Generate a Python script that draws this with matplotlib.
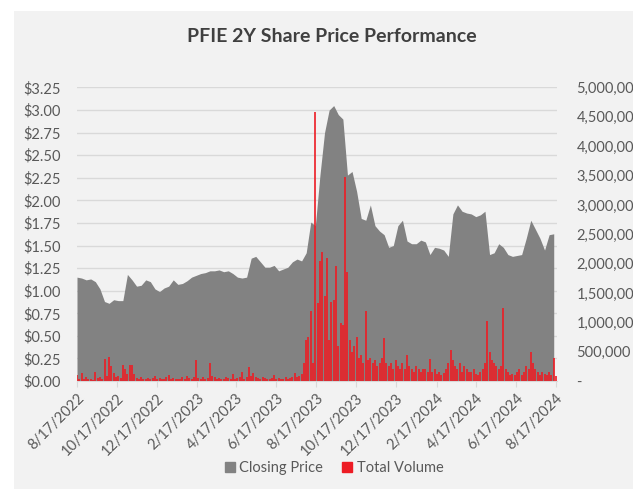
import numpy as np
import pandas as pd
import matplotlib
matplotlib.use("Agg")
import matplotlib.pyplot as plt
import matplotlib.ticker as mticker
from matplotlib.patches import Rectangle, Patch

plt.rcParams['font.family'] = ['Lato', 'DejaVu Sans']

# weekly closing price ($), first week starting 8/17/2022
price = [
    1.15, 1.14, 1.12, 1.13, 1.10, 1.02, 0.88, 0.86, 0.90, 0.89,
    0.89, 1.18, 1.12, 1.05, 1.06, 1.12, 1.10, 1.02, 0.99, 1.03,
    1.05, 1.12, 1.07, 1.08, 1.11, 1.15, 1.17, 1.19, 1.20, 1.22,
    1.22, 1.23, 1.21, 1.22, 1.19, 1.15, 1.14, 1.15, 1.36, 1.38,
    1.32, 1.26, 1.26, 1.28, 1.22, 1.24, 1.26, 1.32, 1.35, 1.33,
    1.42, 1.76, 1.72, 2.28, 2.75, 3.00, 3.05, 2.95, 2.90, 2.28,
    2.32, 2.10, 1.80, 1.78, 1.95, 1.72, 1.66, 1.62, 1.48, 1.50,
    1.72, 1.78, 1.55, 1.52, 1.52, 1.56, 1.54, 1.40, 1.48, 1.47,
    1.45, 1.38, 1.85, 1.95, 1.88, 1.86, 1.85, 1.82, 1.84, 1.88,
    1.40, 1.42, 1.52, 1.48, 1.40, 1.38, 1.39, 1.40, 1.58, 1.78,
    1.68, 1.58, 1.45, 1.62, 1.63,
]

# total volume (thousands of shares), two readings per week
volume_k = [
    100, 40, 140, 30, 70, 30, 40, 25, 160, 50,
    60, 40, 370, 80, 410, 250, 130, 60, 90, 50,
    270, 200, 120, 270, 270, 120, 50, 40, 60, 35,
    40, 50, 30, 45, 90, 40, 50, 30, 40, 60,
    100, 40, 50, 30, 40, 35, 60, 40, 90, 50,
    40, 60, 360, 50, 40, 60, 30, 50, 300, 80,
    60, 40, 50, 30, 40, 60, 50, 40, 120, 40,
    50, 60, 150, 40, 60, 240, 90, 130, 60, 50,
    40, 60, 50, 40, 30, 50, 100, 40, 50, 30,
    40, 60, 30, 50, 70, 130, 60, 80, 120, 300,
    700, 750, 1200, 300, 4580, 1330, 2040, 2200, 1450, 2100,
    700, 1350, 1380, 1960, 600, 980, 950, 3470, 1860, 700,
    500, 600, 750, 400, 450, 300, 1190, 350, 400, 300,
    350, 250, 300, 400, 740, 300, 250, 300, 200, 350,
    250, 200, 300, 200, 450, 250, 200, 150, 250, 200,
    150, 200, 200, 150, 370, 150, 200, 120, 150, 100,
    130, 200, 300, 530, 350, 250, 200, 300, 150, 250,
    200, 150, 150, 200, 120, 100, 150, 200, 300, 1020,
    500, 350, 300, 250, 200, 250, 1240, 200, 150, 100,
    120, 100, 150, 200, 100, 150, 250, 200, 500, 300,
    200, 150, 100, 150, 120, 100, 150, 100, 400, 80,
]

start = pd.Timestamp("2022-08-17")
price_dates = pd.date_range(start, periods=len(price), freq="7D")
vol_dates = start + pd.to_timedelta(np.arange(len(volume_k)) * 3.5, unit="D")
volume = np.array(volume_k) * 1000
tick_dates = [start + pd.DateOffset(months=2 * i) for i in range(13)]

grey = '#828282'
red = '#ED1C24'
txt = '#595959'

fig = plt.figure(figsize=(6.33, 4.90), dpi=100, facecolor='white')
fig.patches.append(Rectangle((14 / 633, 1 / 490), 619 / 633, 478 / 490,
                             transform=fig.transFigure, facecolor='#f2f2f2',
                             edgecolor='none', zorder=-10))

ax = fig.add_axes([77 / 633, 109 / 490, 480 / 633, 293.5 / 490])
ax.set_facecolor('none')
ax.fill_between(price_dates, price, 0, color=grey, linewidth=0, zorder=2)
ax.set_ylim(0, 3.25)
ax.set_yticks(np.arange(0, 3.26, 0.25))
ax.yaxis.set_major_formatter(mticker.FuncFormatter(lambda v, p: f"${v:.2f}"))
ax.grid(axis='y', color='#d9d9d9', linewidth=1, zorder=1)
ax.set_axisbelow(True)
ax.set_xlim(start, pd.Timestamp("2024-08-19"))
ax.set_xticks(tick_dates)
ax.set_xticklabels([f"{d.month}/{d.day}/{d.year}" for d in tick_dates],
                   rotation=45, ha='right', va='top', rotation_mode='anchor')

ax2 = ax.twinx()
# thin volume spikes
ax2.vlines(vol_dates, 0, volume, color=red, linewidth=1.2, zorder=3)
ax2.set_ylim(0, 5_000_000)
ax2.set_yticks(np.arange(0, 5_000_001, 500_000))
ax2.yaxis.set_major_formatter(
    mticker.FuncFormatter(lambda v, p: "-" if v == 0 else f"{v:,.0f}"))

for a in (ax, ax2):
    for s in a.spines.values():
        s.set_visible(False)
    a.tick_params(axis='y', length=0, labelsize=10.5, labelcolor=txt)
ax.tick_params(axis='y', pad=12)
ax2.tick_params(axis='y', pad=14)
ax.spines['bottom'].set_visible(True)
ax.spines['bottom'].set_color('#d9d9d9')
ax.tick_params(axis='x', length=4, color='#d9d9d9', labelsize=10.5,
               labelcolor=txt, pad=3)

fig.text(332 / 633, 1 - 37 / 490, "PFIE 2Y Share Price Performance",
         ha='center', va='center', fontsize=14, fontweight='bold', color='#404040')

handles = [Patch(color=grey, label='Closing Price'), Patch(color=red, label='Total Volume')]
fig.legend(handles=handles, loc='center', bbox_to_anchor=(334 / 633, 1 - 468 / 490),
           ncol=2, frameon=False, fontsize=10.5, labelcolor=txt,
           handlelength=0.7, handleheight=0.7, handletextpad=0.3, columnspacing=1.3)

fig.savefig("out.png", dpi=100, facecolor='white')
